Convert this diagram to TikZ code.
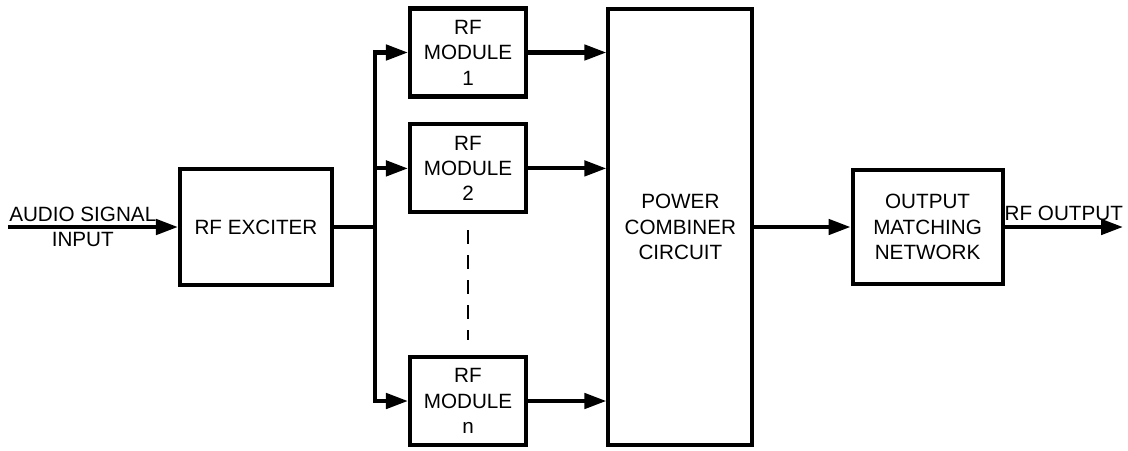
\documentclass[tikz,border=0pt]{standalone}
\usepackage{fontspec}
\setmainfont{Liberation Sans}
\usetikzlibrary{arrows.meta, positioning}
\tikzset{
  every picture/.style={font=\fontsize{14.7}{18.1}\selectfont, line width=2.9pt},
  blockbox/.style={draw=black, align=center, inner sep=2pt},
  arrow/.style={-{Triangle[length=0.55cm, width=0.38cm]}, draw=black, line width=2.9pt},
  dashline/.style={draw=black, line width=1.5pt, dash pattern=on 0.333cm off 0.29cm},
  lbl/.style={align=center, inner sep=0pt},
}

\begin{document}
\begin{tikzpicture}
  \useasboundingbox (0,0) rectangle (28.2,-11.25);
  \node[blockbox, minimum width=3.8cm, minimum height=2.9cm] (exc) at (6.40,-5.675) {RF EXCITER};
  \node[blockbox, minimum width=2.9cm, minimum height=2.2cm] (m1) at (11.70,-1.3125) {RF\\MODULE\\1};
  \node[blockbox, minimum width=2.9cm, minimum height=2.2cm] (m2) at (11.70,-4.21) {RF\\MODULE\\2};
  \node[blockbox, minimum width=2.9cm, minimum height=2.2cm] (mn) at (11.70,-10.025) {RF\\MODULE\\n};
  \node[blockbox, minimum width=3.6cm, minimum height=10.9cm] (comb) at (17.01,-5.675) {POWER\\COMBINER\\CIRCUIT};
  \node[blockbox, minimum width=3.75cm, minimum height=2.85cm] (out) at (23.19,-5.675) {OUTPUT\\MATCHING\\NETWORK};
  \coordinate (in) at (0.2,-5.675);
  \coordinate (bus) at (9.375,-5.675);
  \coordinate (rfout) at (28.075,-5.675);
  \draw[arrow] (in) -- node[lbl, pos=0.44] {AUDIO SIGNAL\\INPUT} (exc);
  \draw (exc) -- (bus);
  \draw[arrow] (bus) |- (m1);
  \draw[arrow] (bus) |- (m2);
  \draw[arrow] (bus) |- (mn);
  \draw[arrow] (m1) -- (m1 -| comb.west);
  \draw[arrow] (m2) -- (m2 -| comb.west);
  \draw[arrow] (mn) -- (mn -| comb.west);
  \draw[dashline] ([yshift=-0.4cm]m2.south) -- ([yshift=0.37cm]mn.north);
  \draw[arrow] (comb) -- (out);
  \draw[arrow] (out) -- node[above, inner sep=3pt] {RF OUTPUT} (rfout);
\end{tikzpicture}
\end{document}
